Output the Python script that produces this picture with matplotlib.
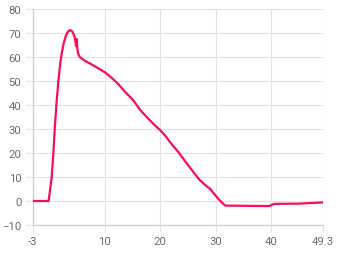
import matplotlib
matplotlib.use("Agg")
import matplotlib.pyplot as plt

x_vals = [-3, -0.1, 0.46, 0.76, 1.0, 1.3, 1.66, 2.0, 2.3, 2.6, 3.0, 3.4, 3.8, 4.2, 4.6,
          4.85, 4.95, 5.05, 5.2, 5.5, 5.9, 6.5, 7.4, 8.3, 9.2, 10.1, 11.0, 12.2,
          13.4, 14.3, 15.2, 16.4, 17.9, 19.0, 20.0, 21.0, 21.8, 23.3, 24.8, 26.0,
          27.2, 28.2, 29.0, 30.0, 30.5, 31.2, 31.7, 35.0, 39.6, 40.2, 40.6, 45.0, 49.3]
y_vals = [0, 0, 10, 20, 30, 40, 50, 57.5, 62, 65.5, 68.8, 70.6, 71.2, 70.5, 68.3,
          64.5, 67.5, 64, 61.5, 60, 59.3, 58.3, 57.2, 56.0, 54.8, 53.5, 51.8, 49.3,
          46.2, 44.0, 41.8, 37.9, 34.2, 31.6, 29.5, 27.0, 24.4, 20.3, 15.6, 12.0,
          8.5, 6.5, 5.0, 2.2, 0.8, -0.8, -1.9, -2.0, -2.1, -1.5, -1.2, -1.1, -0.6]
x_ticks = [-3, 10, 20, 30, 40, 49.3]
x_tick_labels = ["-3", "10", "20", "30", "40", "49.3"]
y_ticks = [-10, 0, 10, 20, 30, 40, 50, 60, 70, 80]

plt.rcParams['font.family'] = ['Roboto', 'DejaVu Sans']

fig = plt.figure(figsize=(3.4, 2.55), dpi=100)
ax = fig.add_axes([0.0956, 0.1137, 0.854, 0.8473])

ax.plot(x_vals, y_vals, color='#ff0a54', lw=1.6, solid_joinstyle='round', zorder=3)

ax.set_xlim(-3, 49.3)
ax.set_ylim(-10, 80)
ax.set_xticks(x_ticks)
ax.set_xticklabels(x_tick_labels)
ax.set_yticks(y_ticks)
ax.grid(True, color='#e2e2e2', lw=0.8)
ax.set_axisbelow(True)
for s in ['top', 'right']:
    ax.spines[s].set_visible(False)
for s in ['left', 'bottom']:
    ax.spines[s].set_color('#cccccc')
    ax.spines[s].set_linewidth(0.9)
ax.tick_params(axis='both', colors='#e2e2e2', labelcolor='#6b6b6b',
               labelsize=8.2, length=5, width=0.8, pad=3)

fig.savefig('out.png', dpi=100)
